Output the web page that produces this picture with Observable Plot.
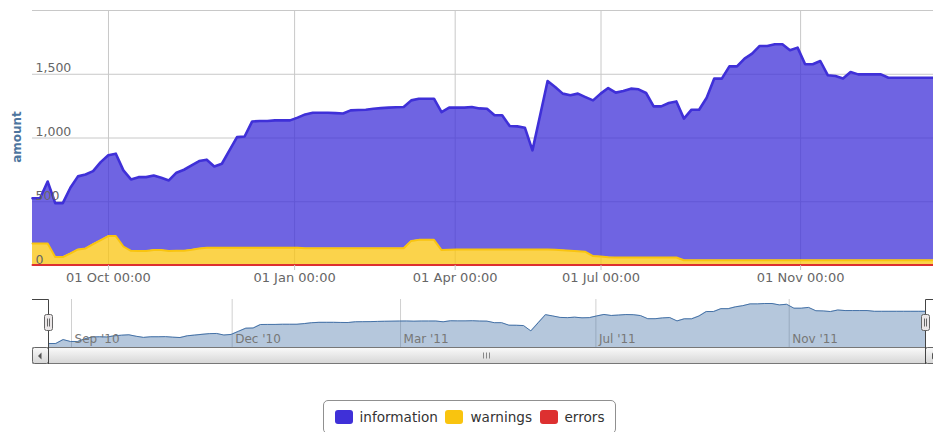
<!DOCTYPE html>
<html>
<head>
<meta charset="utf-8">
<script src="https://cdn.jsdelivr.net/npm/d3@7"></script>
<script src="https://cdn.jsdelivr.net/npm/@observablehq/plot@0.6"></script>
<style>
  html, body { margin: 0; padding: 0; overflow: hidden; background: #fff; width: 933px; height: 432px; }
  #wrap { position: relative; width: 933px; height: 432px; overflow: hidden; font-family: "DejaVu Sans", Verdana, sans-serif; }
  #main, #nav, #deco, #legend, #ytitle { position: absolute; }
  #main { left: 0; top: 0; width: 950px; }
  #nav { left: 0; top: 290px; width: 950px; }
  #main svg, #nav svg { max-width: none !important; }
  #deco { left: 0; top: 0; pointer-events: none; }
  #ytitle { left: 17px; top: 136.5px; transform: translate(-50%, -50%) rotate(-90deg); font-size: 12px; font-weight: bold; color: #4d759e; white-space: nowrap; line-height: 1; }
  #legend { left: 322.5px; top: 400px; width: 293px; height: 34px; border: 1px solid #909090; border-radius: 5px; box-sizing: border-box; display: flex; align-items: center; padding-left: 11px; }
  .item { display: flex; align-items: center; margin-right: 7.5px; }
  .sw { width: 18px; height: 14px; border-radius: 3px; margin-right: 7px; }
  .lbl { font-size: 13.6px; color: #333; }
</style>
</head>
<body>
<div id="wrap">
  <div id="main"></div>
  <div id="ytitle">amount</div>
  <div id="nav"></div>
  <svg id="deco" width="950" height="432"></svg>
  <div id="legend"></div>
</div>
<script>
// ---- data (points are equally spaced on Highstock's ordinal x axis) ----
const information = [
  355, 355, 486, 423, 423, 515, 573, 580, 572, 612,
  633, 646, 597, 560, 580, 580, 585, 567, 554, 613,
  636, 662, 685, 691, 638, 659, 764, 868, 873, 991,
  994, 994, 999, 999, 999, 1021, 1050, 1063, 1063, 1063,
  1060, 1057, 1082, 1085, 1087, 1095, 1099, 1103, 1106, 1108,
  1102, 1107, 1107, 1107, 1082, 1115, 1112, 1112, 1117, 1106,
  1104, 1052, 1052, 968, 965, 955, 777, 1049, 1321, 1277,
  1229, 1220, 1237, 1214, 1221, 1277, 1327, 1293, 1306, 1324,
  1319, 1290, 1185, 1185, 1211, 1224, 1111, 1181, 1181, 1275,
  1425, 1425, 1521, 1521, 1582, 1621, 1681, 1681, 1694, 1694,
  1647, 1668, 1537, 1537, 1563, 1451, 1445, 1425, 1476, 1458,
  1458, 1458, 1458, 1432, 1432, 1432, 1432, 1432, 1432, 1432,
  1432
];
const warnings = [
  170, 170, 170, 63, 63, 92, 123, 131, 165, 196,
  228, 228, 146, 112, 110, 110, 118, 118, 110, 112,
  112, 120, 131, 136, 136, 136, 136, 136, 136, 136,
  136, 136, 136, 136, 136, 136, 132, 132, 132, 132,
  132, 132, 132, 132, 132, 132, 132, 132, 132, 132,
  190, 198, 198, 198, 118, 120, 123, 123, 123, 123,
  123, 123, 123, 123, 123, 123, 123, 123, 123, 120,
  116, 112, 108, 104, 71, 68, 62, 60, 60, 60,
  60, 60, 60, 60, 60, 60, 38, 38, 38, 38,
  38, 38, 38, 38, 38, 38, 38, 38, 38, 38,
  38, 38, 38, 38, 38, 38, 38, 38, 38, 38,
  38, 38, 38, 38, 38, 38, 38, 38, 38, 38,
  38
];
const errors = [
  3, 3, 3, 3, 3, 3, 3, 3, 3, 3,
  3, 3, 3, 3, 3, 3, 3, 3, 3, 3,
  3, 3, 3, 3, 3, 3, 3, 3, 3, 3,
  3, 3, 3, 3, 3, 3, 3, 3, 3, 3,
  3, 3, 3, 3, 3, 3, 3, 3, 3, 3,
  3, 3, 3, 3, 3, 3, 3, 3, 3, 3,
  3, 3, 3, 3, 3, 3, 3, 3, 3, 3,
  3, 3, 3, 3, 3, 3, 3, 3, 3, 3,
  3, 3, 3, 3, 3, 3, 3, 3, 3, 3,
  3, 3, 3, 3, 3, 3, 3, 3, 3, 3,
  3, 3, 3, 3, 3, 3, 3, 3, 3, 3,
  3, 3, 3, 3, 3, 3, 3, 3, 3, 3,
  3
];
const seriesNames = ["information", "warnings", "errors"];
const seriesColors = ["#3f30d8", "#f9c40f", "#dd3030"];

const yTickValues = [0, 500, 1000, 1500];
const yTickLabels = ["0", "500", "1,000", "1,500"];
const yGridValues = [500, 1000, 1500, 2000];

// tick positions expressed in point index units (ordinal axis)
const xTickPoints = [10.03, 34.6, 55.8, 75.05, 101.4];
const xTickLabels = ["01 Oct 00:00", "01 Jan 00:00", "01 Apr 00:00", "01 Jul 00:00", "01 Nov 00:00"];
const navTickPoints = [3.15, 25.13, 48.17, 74.9, 101.35];
const navTickLabels = ["Sep '10", "Dec '10", "Mar '11", "Jul '11", "Nov '11"];

// ---- table for stacking: bottom (errors) first ----
const stackOrder = [["errors", errors], ["warnings", warnings], ["information", information]];
const rows = [];
for (const [name, arr] of stackOrder) arr.forEach((v, i) => rows.push({i, value: v, series: name}));

const n = information.length;
const font = "DejaVu Sans";

const main = Plot.plot({
  width: 950, height: 290,
  marginTop: 10, marginBottom: 25, marginLeft: 32, marginRight: 9,
  x: {domain: [0, n - 1]},
  y: {domain: [0, 2000], axis: null},
  color: {domain: seriesNames, range: seriesColors},
  style: {fontFamily: font, background: "transparent", overflow: "visible", maxWidth: "none"},
  marks: [
    Plot.ruleY(yGridValues, {stroke: "#c8c8c8", strokeWidth: 1}),
    Plot.ruleX(xTickPoints, {stroke: "#c8c8c8", strokeWidth: 1}),
    Plot.areaY(rows, Plot.stackY({x: "i", y: "value", fill: "series", fillOpacity: 0.75})),
    Plot.lineY(rows, Plot.stackY2({x: "i", y: "value", z: "series", stroke: "series",
      strokeWidth: d => d.series === "information" ? 2.6 : 2})),
    Plot.axisX(xTickPoints, {tickFormat: () => "", tickSize: 5, stroke: "#c8c8c8", label: null}),
    Plot.text(xTickPoints, {x: d => d, text: (d, i) => xTickLabels[i], frameAnchor: "bottom", textAnchor: "middle",
      lineAnchor: "bottom", dy: 16.5, fill: "#666", fontSize: 13, fontFamily: font}),
    Plot.text(yTickValues, {y: d => d, text: (d, i) => yTickLabels[i], frameAnchor: "left", textAnchor: "start",
      lineAnchor: "bottom", dx: 3, dy: -2, fill: "#666", fontSize: 12.5, fontFamily: font})
  ]
});
document.getElementById("main").appendChild(main);

// ---- navigator ----
const [lo, hi] = d3.extent(information);
const pad = (hi - lo) * 0.1;
const nav = Plot.plot({
  width: 950, height: 57,
  marginTop: 9, marginBottom: 0, marginLeft: 48, marginRight: 25,
  x: {domain: [0, n - 1], axis: null},
  y: {domain: [lo - pad, hi + pad], axis: null, clamp: true},
  style: {fontFamily: font, background: "transparent", overflow: "visible", maxWidth: "none"},
  marks: [
    Plot.ruleX(navTickPoints, {stroke: "#d0d0d0"}),
    Plot.areaY(information, {x: (d, i) => i, y: d => d, fill: "#4572A7", fillOpacity: 0.4}),
    Plot.lineY(information, {x: (d, i) => i, y: d => d, stroke: "#4572A7", strokeWidth: 1}),
    Plot.text(navTickPoints, {x: d => d, text: (d, i) => navTickLabels[i], frameAnchor: "bottom", textAnchor: "start",
      lineAnchor: "bottom", dx: 3, dy: -5, fill: "#777", fontSize: 12, fontFamily: font})
  ]
});
document.getElementById("nav").appendChild(nav);

// ---- scrollbar / navigator outline & handles (decoration) ----
const deco = d3.select("#deco");
const defs = deco.append("defs");
const g = defs.append("linearGradient").attr("id", "sg").attr("x1", 0).attr("y1", 0).attr("x2", 0).attr("y2", 1);
g.append("stop").attr("offset", "0").attr("stop-color", "#fafafa");
g.append("stop").attr("offset", "1").attr("stop-color", "#d6d6d6");
const sbTop = 347.5, sbH = 16;
deco.append("rect").attr("x", 32.5).attr("y", sbTop).attr("width", 916).attr("height", sbH).attr("fill", "#eeeeee").attr("stroke", "#bbbbbb");
deco.append("rect").attr("x", 48.5).attr("y", sbTop).attr("width", 877).attr("height", sbH).attr("fill", "url(#sg)").attr("stroke", "#777");
for (const bx of [32.5, 925.5]) {
  deco.append("rect").attr("x", bx).attr("y", sbTop).attr("width", 16).attr("height", sbH).attr("rx", 2).attr("fill", "url(#sg)").attr("stroke", "#666");
}
deco.append("path").attr("d", "M41.5,352.5 L41.5,359.5 L38,356 Z").attr("fill", "#555");
deco.append("path").attr("d", "M932,352.5 L932,359.5 L935.5,356 Z").attr("fill", "#555");
for (const gx of [483.5, 486.5, 489.5]) {
  deco.append("line").attr("x1", gx).attr("x2", gx).attr("y1", 352.5).attr("y2", 358.5).attr("stroke", "#888");
}
deco.append("path").attr("d", "M32,299.5 H48.5 V364 M925.5,364 V299.5 H950").attr("fill", "none").attr("stroke", "#444");
for (const hx of [48.5, 925.5]) {
  deco.append("rect").attr("x", hx - 4).attr("y", 314.5).attr("width", 8).attr("height", 16).attr("rx", 2)
    .attr("fill", "#ebe7e8").attr("stroke", "#666");
  for (const dx of [-1, 1]) deco.append("line").attr("x1", hx + dx).attr("x2", hx + dx).attr("y1", 318.5).attr("y2", 326.5).attr("stroke", "#666");
}

// ---- legend ----
const legend = d3.select("#legend");
seriesNames.forEach((name, k) => {
  const it = legend.append("div").attr("class", "item");
  it.append("div").attr("class", "sw").style("background", seriesColors[k]);
  it.append("span").attr("class", "lbl").text(name);
});
</script>
</body>
</html>
